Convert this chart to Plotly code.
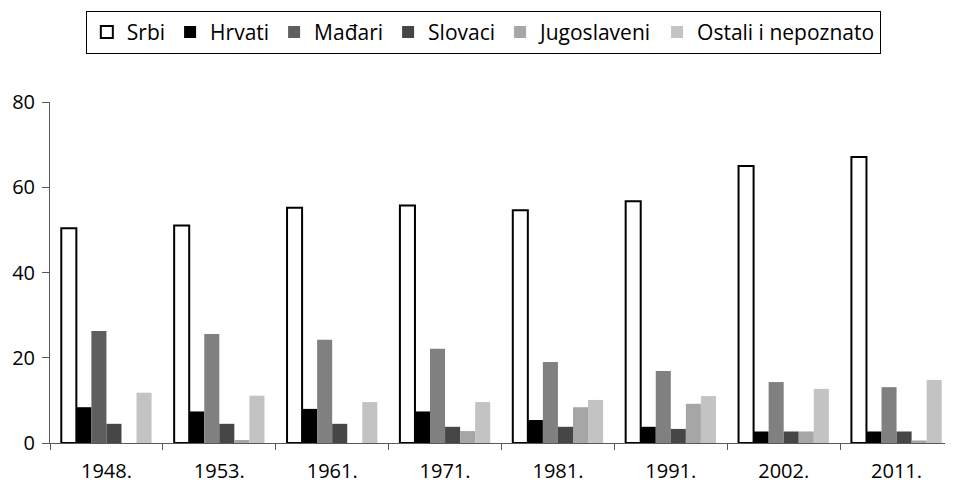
import plotly.graph_objects as go

years = ["1948.", "1953.", "1961.", "1971.", "1981.", "1991.", "2002.", "2011."]
srbi = [50.4, 51.0, 55.2, 55.7, 54.6, 56.7, 65.0, 67.1]
hrvati = [8.4, 7.4, 8.0, 7.4, 5.4, 3.8, 2.7, 2.7]
madari = [26.3, 25.6, 24.2, 22.1, 19.0, 16.9, 14.3, 13.1]
slovaci = [4.5, 4.5, 4.5, 3.8, 3.8, 3.3, 2.7, 2.7]
jugoslaveni = [0.0, 0.7, 0.0, 2.8, 8.4, 9.2, 2.7, 0.6]
ostali = [11.8, 11.1, 9.6, 9.6, 10.1, 11.0, 12.7, 14.8]
yticks = [0, 20, 40, 60, 80]

FONT = "Open Sans"

series = [
    ("Srbi", srbi, "#ffffff", 2),
    ("Hrvati", hrvati, "#000000", 0),
    ("Mađari", madari, ["#5e5e5e"] + ["#808080"] * 7, 0),
    ("Slovaci", slovaci, "#464646", 0),
    ("Jugoslaveni", jugoslaveni, "#a6a6a6", 0),
    ("Ostali i nepoznato", ostali, "#c3c3c3", 0),
]

fig = go.Figure()
for name, vals, color, lw in series:
    fig.add_trace(go.Bar(
        x=years, y=vals, name=name,
        marker=dict(color=color, line=dict(color="#000000", width=lw)),
    ))

# page body has an 8px margin, so the figure is 8px smaller than the window
fig.update_layout(
    width=945, height=477,
    margin=dict(l=42, r=0, t=94, b=42, autoexpand=False),
    paper_bgcolor="white", plot_bgcolor="white",
    barmode="group", bargap=0.2, bargroupgap=0,
    font=dict(family=FONT, size=21, color="#000000"),
    showlegend=True,
    legend=dict(
        orientation="h", xref="container", yref="container",
        x=0.503, xanchor="center", y=0.994, yanchor="top",
        bordercolor="#000000", borderwidth=1,
        font=dict(family=FONT, size=21, color="#000000"),
        itemclick=False,
    ),
    xaxis=dict(
        showline=True, linecolor="#595959", linewidth=1,
        ticks="outside", ticklen=6, tickcolor="#595959",
        tickson="boundaries", showgrid=False, automargin=False,
        ticklabelstandoff=10,
        tickfont=dict(family=FONT, size=20),
    ),
    yaxis=dict(
        range=[0, 80], tickvals=yticks, showline=True,
        linecolor="#595959", linewidth=1, ticks="outside", ticklen=7,
        tickcolor="#595959", showgrid=False, zeroline=False,
        automargin=False, ticklabelstandoff=3,
        tickfont=dict(family=FONT, size=20),
    ),
)

fig.write_html("out.html")
